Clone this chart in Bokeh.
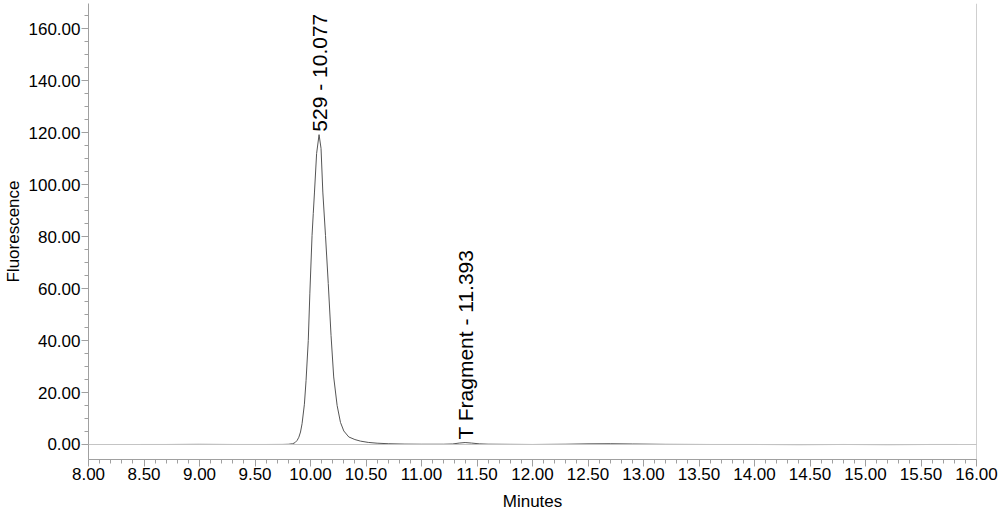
import math
from bokeh.plotting import figure
from bokeh.models import (ColumnDataSource, FixedTicker, NumeralTickFormatter,
                          Span, Range1d)
from bokeh.core.properties import value
from bokeh.embed import file_html
from bokeh.resources import INLINE

# ---- data ----
times = [8.47, 8.70, 9.00, 9.30, 9.60, 9.75, 9.80, 9.84, 9.86, 9.88, 9.895,
         9.91, 9.924, 9.945, 9.96, 9.98, 9.994, 10.014, 10.025, 10.036, 10.055,
         10.077, 10.095, 10.111, 10.135, 10.16, 10.185, 10.209, 10.24, 10.27,
         10.30, 10.345, 10.40, 10.45, 10.52, 10.60, 10.70, 10.85, 11.00, 11.20,
         11.28, 11.34, 11.393, 11.45, 11.52, 11.60, 11.80, 12.00, 12.30, 12.50,
         12.70, 12.90, 13.20, 13.60, 14.00, 14.40, 14.80, 15.20, 15.60, 15.83]
fluor = [0.0, 0.0, 0.05, 0.0, 0.0, 0.02, 0.08, 0.3, 0.7, 1.6, 2.8,
         4.8, 8.0, 15.5, 24.6, 40.0, 58.0, 80.5, 89.0, 97.2, 112.0,
         119.3, 114.0, 97.2, 80.5, 62.0, 42.0, 26.0, 15.0, 8.5,
         5.2, 2.9, 1.9, 1.3, 0.8, 0.5, 0.3, 0.15, 0.1, 0.1,
         0.2, 0.55, 0.75, 0.55, 0.25, 0.12, 0.05, 0.0, 0.1, 0.25,
         0.3, 0.2, 0.05, 0.0, 0.0, -0.05, 0.0, -0.05, 0.0, 0.0]

peak_times = [10.077, 11.393]
peak_heights = [119.3, 0.75]
peak_labels = ["529 - 10.077", "T Fragment - 11.393"]

x_major = [8.0 + 0.5 * i for i in range(17)]
x_minor = [round(8.0 + 0.1 * i, 2) for i in range(81)]
y_major = [0, 20, 40, 60, 80, 100, 120, 140, 160]
y_minor = [5 * i for i in range(34)]

x_title = "Minutes"
y_title = "Fluorescence"

FONT = "Liberation Sans"
AX = "#a0a0a0"

p = figure(width=1000, height=513, output_backend="svg", toolbar_location=None,
           x_range=Range1d(8.0, 16.0), y_range=Range1d(-5.78, 169.8),
           min_border_left=88, min_border_right=24, min_border_top=3,
           min_border_bottom=54)
p.outline_line_color = None
p.xgrid.visible = False
p.ygrid.visible = False
p.background_fill_color = "white"

p.add_layout(Span(location=0, dimension="width", line_color="#c4c4c4", line_width=1))
p.add_layout(Span(location=16.0, dimension="height", line_color=AX, line_width=1))

src = ColumnDataSource(dict(t=times, f=fluor))
p.line("t", "f", source=src, line_color="#555555", line_width=1)

lab = ColumnDataSource(dict(x=peak_times, y=peak_heights, txt=peak_labels))
p.text("x", "y", text="txt", source=lab, angle=math.pi / 2,
       text_align="left", text_baseline="middle", y_offset=-3,
       text_font=value(FONT), text_font_size="21px", text_color="black")

xa = p.xaxis[0]
xa.ticker = FixedTicker(ticks=x_major, minor_ticks=x_minor)
xa.formatter = NumeralTickFormatter(format="0.00")
xa.axis_label = x_title
ya = p.yaxis[0]
ya.ticker = FixedTicker(ticks=y_major, minor_ticks=y_minor)
ya.formatter = NumeralTickFormatter(format="0.00")
ya.axis_label = y_title
for ax in (xa, ya):
    ax.axis_line_color = AX
    ax.major_tick_line_color = AX
    ax.minor_tick_line_color = AX
    ax.major_tick_in = 0
    ax.minor_tick_in = 0
    ax.major_tick_out = 7
    ax.minor_tick_out = 4
    ax.major_label_text_font = FONT
    ax.major_label_text_color = "black"
    ax.major_label_standoff = 1
    ax.major_label_text_font_size = "17px"
    ax.axis_label_text_font = FONT
    ax.axis_label_text_font_size = "17px"
    ax.axis_label_text_font_style = "normal"
    ax.axis_label_text_color = "black"
xa.axis_label_standoff = 9
ya.axis_label_standoff = 3

open("out.html", "w").write(file_html(p, INLINE))
